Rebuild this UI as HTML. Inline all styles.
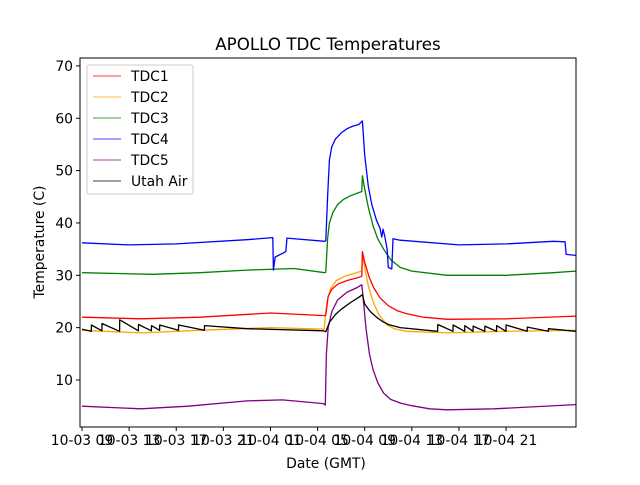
<!DOCTYPE html>
<html><head><meta charset="utf-8"><style>
body{margin:0;background:#fff;}
svg text{font-family:"DejaVu Sans","Liberation Sans",sans-serif;}
</style></head><body>
<svg id="chart" width="640" height="480" viewBox="0 0 640 480" xmlns="http://www.w3.org/2000/svg">
<rect width="640" height="480" fill="#fff"/>
<text x="328" y="50" font-size="16.7" text-anchor="middle">APOLLO TDC Temperatures</text>
<g id="plot"></g>
<g id="axes"></g>
<text x="326" y="468" font-size="13.9" text-anchor="middle">Date (GMT)</text>
<text x="0" y="0" font-size="13.9" text-anchor="middle" transform="translate(44,242) rotate(-90)">Temperature (C)</text>
<g id="legend"></g>
</svg>
<script>
// hours since 10-03 09:00
const xTickLabels = ["10-03 09","10-03 13","10-03 17","10-03 21","10-04 01","10-04 05","10-04 09","10-04 13","10-04 17","10-04 21"];
const xTickHours = [0,4,8,12,16,20,24,28,32,36];
const yTicks = [10,20,30,40,50,60,70];

const tdc4T = [0,4,8,14,16.2,16.25,16.4,17.3,17.4,20.6,20.7,20.85,21.0,21.2,21.5,22,22.5,23,23.5,23.8,24.0,24.3,24.6,25.0,25.3,25.45,25.55,25.7,25.9,26.0,26.3,26.4,27,32,36,40,41.0,41.1,41.9];
const tdc4V = [36.2,35.8,36.0,36.8,37.2,31.0,33.5,34.5,37.1,36.5,36.6,45,52,54.5,56,57.2,58,58.5,58.8,59.5,53,47,43.5,40.5,39,37.3,38.8,37.5,35,31.5,31.2,37,36.7,35.8,36,36.5,36.4,34,33.8];
const tdc3T = [0,6,10,14,18,20.6,20.7,20.85,21.0,21.3,21.7,22.2,22.8,23.5,23.75,23.8,24.0,24.3,24.7,25.1,25.6,26.2,27,28,31,36,40,41.9];
const tdc3V = [30.5,30.2,30.5,31,31.3,30.5,30.6,37,40,42,43.5,44.5,45.2,45.8,46,49,46.5,43,39.5,37,35,33,31.5,30.8,30,30,30.5,30.8];
const tdc1T = [0,5,10,16,20.6,20.7,20.9,21.2,21.7,22.5,23.5,23.75,23.8,24.0,24.4,24.8,25.3,26,26.8,27.5,29,31,36,41.9];
const tdc1V = [22,21.7,22,22.8,22.3,22.4,26,27.3,28.3,29.0,29.6,29.8,34.5,32.5,29.5,27.5,25.7,24.2,23.2,22.7,22,21.6,21.7,22.2];
const tdc2T = [0,5,10,16,20.55,20.8,21.1,21.6,22.3,23.0,23.75,23.8,24.0,24.3,24.7,25.2,25.9,26.5,27.5,31,36,41.9];
const tdc2V = [19.5,19,19.5,20,19.7,25,27.5,29,29.8,30.3,30.8,34,31.5,28,25,22.5,20.5,19.8,19.3,19,19.3,19.5];
const tdc5T = [0,5,9,14,17,20.5,20.65,20.75,20.9,21.2,21.7,22.5,23.3,23.75,23.85,24.1,24.4,24.7,25.1,25.6,26.2,27,28,29.5,31,35,41.9];
const tdc5V = [5,4.5,5,6,6.2,5.5,5.2,15,20,23,25.3,26.8,27.6,28.2,26,20,15,12,9.5,7.5,6.3,5.6,5.1,4.5,4.3,4.5,5.3];
const airT = [0,0.79,0.8,1.69,1.7,3.19,3.2,4.79,4.8,5.89,5.9,6.59,6.6,8.19,8.2,10.39,10.4,14,20.5,20.7,21,21.5,22,22.8,23.5,23.8,24.0,24.5,25,25.5,26,27,30.19,30.2,31.49,31.5,32.49,32.5,33.19,33.2,34.19,34.2,35.19,35.2,35.99,36,37.79,37.8,39.59,39.6,41.9];
const airV = [19.7,19.3,20.5,19.4,20.8,19.3,21.5,19.4,20.6,19.4,20.4,19.5,20.5,19.5,20.5,19.5,20.4,19.8,19.4,19.2,21,22.5,23.5,24.8,25.8,26.3,24.5,23,22,21.2,20.6,20,19.3,20.6,19.3,20.5,19.3,20.4,19.3,20.3,19.3,20.3,19.3,20.4,19.3,20.5,19.3,20.1,19.3,19.8,19.3];

const legendLabels = ["TDC1","TDC2","TDC3","TDC4","TDC5","Utah Air"];
const legendColors = ["#ff0000","#ffa500","#008000","#0000ff","#800080","#000000"];

const L=80,R=576,T=58,B=427;
const xs = h => 82 + h*11.78;
const ys = v => 380 - (v-10)*5.235;
const NS="http://www.w3.org/2000/svg";
function mk(tag,attrs,parent){const e=document.createElementNS(NS,tag);for(const k in attrs)e.setAttribute(k,attrs[k]);parent.appendChild(e);return e;}

const plot=document.getElementById('plot');
const series=[[tdc5T,tdc5V,"#800080","tdc5-line"],[tdc2T,tdc2V,"#ffa500","tdc2-line"],[airT,airV,"#000000","utah-air-line"],[tdc1T,tdc1V,"#ff0000","tdc1-line"],[tdc3T,tdc3V,"#008000","tdc3-line"],[tdc4T,tdc4V,"#0000ff","tdc4-line"]];
series.forEach(s=>{
  const pts=s[0].map((t,i)=>xs(t).toFixed(1)+","+ys(s[1][i]).toFixed(1)).join(" ");
  const p=mk('polyline',{points:pts,fill:"none",stroke:s[2],"stroke-width":1.3,"stroke-linejoin":"round"},plot);
  
  
});

const axes=document.getElementById('axes');
const frame=mk('rect',{x:L,y:T,width:R-L,height:B-T,fill:"none",stroke:"#000","stroke-width":1},axes);


xTickHours.forEach((h,i)=>{
  const x=xs(h);
  const tk=mk('line',{x1:x,y1:B,x2:x,y2:B+4,stroke:"#000"},axes);
  
  
  const tx=mk('text',{x:x,y:B+18,"font-size":13.9,"text-anchor":"middle"},axes);
  tx.textContent=xTickLabels[i];
  
  
});
yTicks.forEach(v=>{
  const y=ys(v);
  const tk=mk('line',{x1:L-4,y1:y,x2:L,y2:y,stroke:"#000"},axes);
  
  
  const tx=mk('text',{x:L-7,y:y+5,"font-size":13.9,"text-anchor":"end"},axes);
  tx.textContent=v;
  
  
});

const lg=document.getElementById('legend');
const box=mk('rect',{x:87,y:65,width:106,height:129,rx:2,fill:"#fff","fill-opacity":0.8,stroke:"#ccc"},lg);


legendLabels.forEach((lab,i)=>{
  const y=76+i*21;
  const g=mk('g',{},lg);
  
  
  mk('line',{x1:93,y1:y,x2:121,y2:y,stroke:legendColors[i],"stroke-width":0.8},g);
  const t=mk('text',{x:131,y:y+5,"font-size":13.9},g);
  t.textContent=lab;
});
</script>
</body></html>
